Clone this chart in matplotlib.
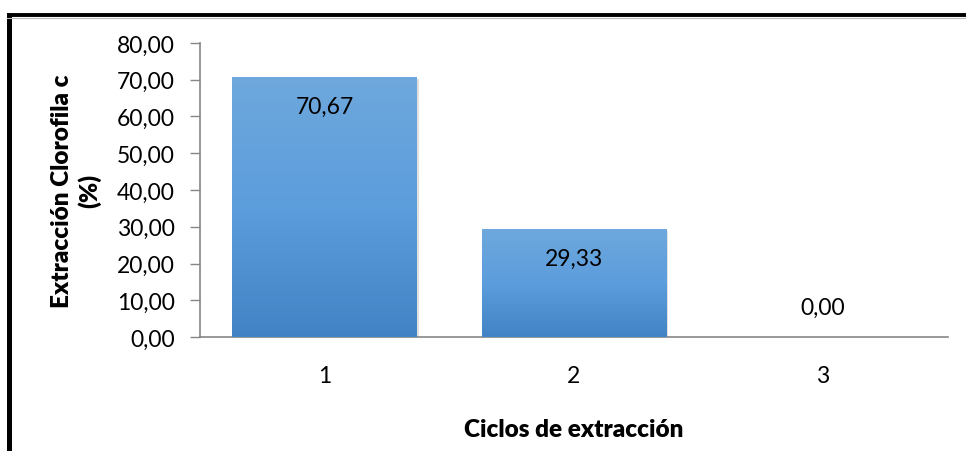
import matplotlib.pyplot as plt
import numpy as np
from matplotlib.colors import LinearSegmentedColormap
from matplotlib.lines import Line2D

ciclos = ['1', '2', '3']
extraccion = [70.67, 29.33, 0.00]
y_ticks = [0, 10, 20, 30, 40, 50, 60, 70, 80]

plt.rcParams['font.family'] = ['Lato', 'DejaVu Sans']

fig = plt.figure(figsize=(9.66, 4.52), dpi=100)
ax = fig.add_axes([0.207, 0.252, 0.774, 0.651])

x = np.arange(len(ciclos))
bars = ax.bar(x, extraccion, width=0.74, color='#5b9bd5', zorder=2)

# vertical gradient fill for each bar, lighter at the top
grad = LinearSegmentedColormap.from_list('barras', ['#4283c5', '#5c9ddd', '#6ea8dc'])
for b in bars:
    h = b.get_height()
    if h <= 0:
        continue
    x0, w = b.get_x(), b.get_width()
    img = ax.imshow(np.linspace(0, 1, 256).reshape(-1, 1), cmap=grad, aspect='auto',
                    origin='lower', extent=[x0, x0 + w, 0, h], zorder=3)
    img.set_clip_path(b)
    # soft shadow on the right/bottom edge
    ax.add_patch(plt.Rectangle((x0 + 0.008, -0.4), w, h, color='#000000', alpha=0.12,
                               zorder=1, linewidth=0))

for xi, v in zip(x, extraccion):
    ty = v - 8 if v > 8 else v + 8
    ax.text(xi, ty, f'{v:.2f}'.replace('.', ','), ha='center', va='center',
            fontsize=16.5, color='black', zorder=5)

ax.set_xlim(-0.5, len(ciclos) - 0.5)
ax.set_ylim(0, 80)
ax.set_yticks(y_ticks)
ax.set_yticklabels([f'{t:.2f}'.replace('.', ',') for t in y_ticks], fontsize=16.5)
ax.set_xticks(x)
ax.set_xticklabels(ciclos, fontsize=16.5)
ax.tick_params(axis='y', direction='out', length=7, color='#868686', width=1, pad=11)
ax.tick_params(axis='x', length=0, pad=20)

for s in ['top', 'right']:
    ax.spines[s].set_visible(False)
for s in ['left', 'bottom']:
    ax.spines[s].set_color('#868686')
    ax.spines[s].set_linewidth(1.2)

ax.set_xlabel('Ciclos de extracción', fontsize=17.5, fontweight='heavy', labelpad=23)
ax.set_ylabel('Extracción Clorofila c\n(%)', fontsize=17.5, fontweight='heavy',
              labelpad=11, linespacing=1.25)

# outer black frame (left and top edges)
fig.add_artist(Line2D([7 / 966, 1.0], [1 - 15.5 / 452] * 2, color='black', lw=2.8,
                      transform=fig.transFigure, solid_capstyle='butt'))
fig.add_artist(Line2D([8.5 / 966, 8.5 / 966], [0, 1 - 14 / 452], color='black',
                      lw=3.6, transform=fig.transFigure, solid_capstyle='butt'))
fig.add_artist(Line2D([7 / 966, 1.0], [1 - 18.5 / 452] * 2, color='#bbbbbb', lw=0.8,
                      transform=fig.transFigure))

fig.savefig('out.png', dpi=100)
